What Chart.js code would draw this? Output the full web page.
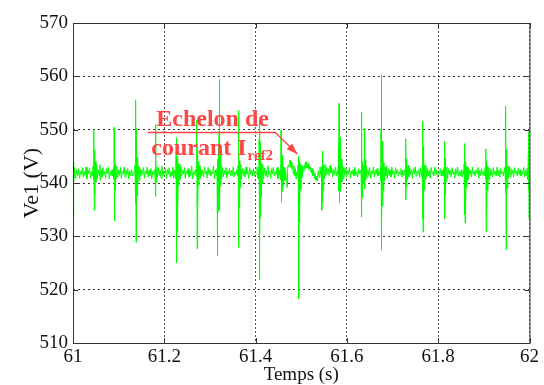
<!DOCTYPE html>
<html>
<head>
<meta charset="utf-8">
<script src="https://cdn.jsdelivr.net/npm/chart.js@4.4.1/dist/chart.umd.min.js"></script>
<style>
  html, body { margin: 0; padding: 0; background: #fff; }
  #wrap { width: 544px; height: 385px; }
</style>
</head>
<body>
<div id="wrap"><canvas id="chart" width="544" height="385"></canvas></div>
<script>
// time axis (s)
const temps = [
  61.0000, 61.0008, 61.0014, 61.0020, 61.0030, 61.0045, 61.0065, 61.0085, 61.0105, 61.0125,
  61.0145, 61.0165, 61.0185, 61.0205, 61.0225, 61.0245, 61.0265, 61.0285, 61.0305, 61.0325,
  61.0345, 61.0365, 61.0385, 61.0405, 61.0425, 61.0440,
  61.0450, 61.0460, 61.0466, 61.0472, 61.0480, 61.0490, 61.0502, 61.0515, 61.0535, 61.0555,
  61.0575, 61.0590, 61.0596, 61.0615, 61.0635, 61.0655, 61.0675, 61.0695, 61.0715, 61.0735,
  61.0755, 61.0775, 61.0795, 61.0815, 61.0835, 61.0855, 61.0875, 61.0890,
  61.0896, 61.0902, 61.0908, 61.0914, 61.0922, 61.0932, 61.0945, 61.0960, 61.0980, 61.1000,
  61.1020, 61.1040, 61.1060, 61.1080, 61.1100, 61.1120, 61.1140, 61.1160, 61.1180, 61.1200,
  61.1220, 61.1240, 61.1260, 61.1280, 61.1300, 61.1320, 61.1340, 61.1355,
  61.1362, 61.1368, 61.1372, 61.1376, 61.1381, 61.1386, 61.1391, 61.1397, 61.1404, 61.1412,
  61.1422, 61.1434, 61.1448, 61.1465, 61.1485, 61.1505, 61.1525, 61.1545, 61.1565, 61.1585,
  61.1605, 61.1625, 61.1645, 61.1665, 61.1685, 61.1705, 61.1725, 61.1745, 61.1765, 61.1785,
  61.1798, 61.1806, 61.1812, 61.1818, 61.1826, 61.1836, 61.1850, 61.1868, 61.1888, 61.1908,
  61.1928, 61.1948, 61.1968, 61.1988, 61.2008, 61.2028, 61.2048, 61.2068, 61.2088, 61.2108,
  61.2128, 61.2148, 61.2168, 61.2188, 61.2208, 61.2228, 61.2245,
  61.2252, 61.2258, 61.2262, 61.2266, 61.2271, 61.2276, 61.2282, 61.2289, 61.2296, 61.2305,
  61.2315, 61.2328, 61.2343, 61.2360, 61.2380, 61.2400, 61.2420, 61.2440, 61.2460, 61.2480,
  61.2500, 61.2520, 61.2540, 61.2560, 61.2580, 61.2600, 61.2620, 61.2640, 61.2660, 61.2680, 61.2700,
  61.2708, 61.2714, 61.2720, 61.2726, 61.2733, 61.2742, 61.2753, 61.2766, 61.2782, 61.2800,
  61.2820, 61.2840, 61.2860, 61.2880, 61.2900, 61.2920, 61.2940, 61.2960, 61.2980, 61.3000,
  61.3020, 61.3040, 61.3060, 61.3080, 61.3100, 61.3120, 61.3140, 61.3155,
  61.3162, 61.3166, 61.3172, 61.3178, 61.3185, 61.3192, 61.3200, 61.3205, 61.3210, 61.3216,
  61.3223, 61.3231, 61.3241, 61.3254, 61.3270, 61.3290, 61.3310, 61.3330, 61.3350, 61.3370,
  61.3390, 61.3410, 61.3430, 61.3450, 61.3470, 61.3490, 61.3510, 61.3530, 61.3550, 61.3570, 61.3590, 61.3610,
  61.3618, 61.3624, 61.3630, 61.3636, 61.3643, 61.3652, 61.3663, 61.3676, 61.3692, 61.3710,
  61.3730, 61.3750, 61.3770, 61.3790, 61.3810, 61.3830, 61.3850, 61.3870, 61.3890, 61.3910,
  61.3930, 61.3950, 61.3970, 61.3990, 61.4010, 61.4030, 61.4050, 61.4065,
  61.4072, 61.4078, 61.4083, 61.4088, 61.4093, 61.4099, 61.4105, 61.4112, 61.4120, 61.4130,
  61.4142, 61.4156, 61.4172, 61.4190, 61.4210, 61.4230, 61.4250, 61.4270, 61.4290, 61.4310,
  61.4330, 61.4350, 61.4370, 61.4390, 61.4410, 61.4430, 61.4450, 61.4470, 61.4490, 61.4510, 61.4530, 61.4545,
  61.4550, 61.4557, 61.4562, 61.4568, 61.4574, 61.4581, 61.4589, 61.4598, 61.4610, 61.4624, 61.4640,
  61.4658, 61.4675, 61.4690, 61.4700, 61.4712, 61.4725, 61.4740, 61.4755, 61.4768, 61.4780,
  61.4795, 61.4810, 61.4825, 61.4840, 61.4855, 61.4870, 61.4885, 61.4900, 61.4915, 61.4928,
  61.4935, 61.4941, 61.4946, 61.4951, 61.4957, 61.4964, 61.4971, 61.4980, 61.4990, 61.5002, 61.5016,
  61.5030, 61.5045, 61.5060, 61.5075, 61.5090, 61.5105, 61.5120, 61.5135, 61.5150, 61.5165,
  61.5180, 61.5195, 61.5210, 61.5225, 61.5240, 61.5255, 61.5270, 61.5285, 61.5300, 61.5315,
  61.5330, 61.5345, 61.5360, 61.5375, 61.5390, 61.5410, 61.5425, 61.5440,
  61.5448, 61.5452, 61.5456, 61.5462, 61.5468, 61.5475, 61.5483, 61.5493, 61.5505, 61.5520,
  61.5538, 61.5556, 61.5574, 61.5592, 61.5610, 61.5630, 61.5650, 61.5670, 61.5690, 61.5710,
  61.5730, 61.5750, 61.5770, 61.5790, 61.5805,
  61.5810, 61.5814, 61.5818, 61.5823, 61.5828, 61.5833, 61.5838, 61.5843, 61.5849, 61.5855,
  61.5862, 61.5870, 61.5879, 61.5890, 61.5903, 61.5918, 61.5935, 61.5955, 61.5975, 61.5995,
  61.6015, 61.6035, 61.6055, 61.6075, 61.6095, 61.6115, 61.6135, 61.6155, 61.6175, 61.6195,
  61.6215, 61.6235, 61.6255, 61.6275, 61.6295, 61.6312,
  61.6317, 61.6322, 61.6328, 61.6335, 61.6344, 61.6355, 61.6366, 61.6378, 61.6386, 61.6390,
  61.6395, 61.6402, 61.6412, 61.6425, 61.6442, 61.6460, 61.6480, 61.6500, 61.6520, 61.6540,
  61.6560, 61.6580, 61.6600, 61.6620, 61.6640, 61.6660, 61.6680, 61.6700, 61.6720, 61.6738,
  61.6743, 61.6748, 61.6751, 61.6753, 61.6758, 61.6763, 61.6768, 61.6774, 61.6781, 61.6789,
  61.6798, 61.6809, 61.6822, 61.6837, 61.6852, 61.6868, 61.6885, 61.6905, 61.6925, 61.6945,
  61.6965, 61.6985, 61.7005, 61.7025, 61.7045, 61.7065, 61.7085, 61.7105, 61.7125, 61.7145,
  61.7165, 61.7185, 61.7205, 61.7225, 61.7245, 61.7265, 61.7280,
  61.7286, 61.7291, 61.7297, 61.7304, 61.7313, 61.7325, 61.7340, 61.7356, 61.7375, 61.7395,
  61.7415, 61.7435, 61.7455, 61.7475, 61.7495, 61.7515, 61.7535, 61.7555, 61.7575, 61.7595,
  61.7615, 61.7635, 61.7652,
  61.7657, 61.7660, 61.7664, 61.7669, 61.7674, 61.7680, 61.7687, 61.7695, 61.7705, 61.7717,
  61.7731, 61.7747, 61.7765, 61.7785, 61.7805, 61.7825, 61.7845, 61.7865, 61.7885, 61.7905,
  61.7925, 61.7945, 61.7965, 61.7985, 61.8005, 61.8025, 61.8045, 61.8065, 61.8085, 61.8105, 61.8125,
  61.8133, 61.8138, 61.8143, 61.8149, 61.8156, 61.8165, 61.8176, 61.8190, 61.8206, 61.8225,
  61.8245, 61.8265, 61.8285, 61.8305, 61.8325, 61.8345, 61.8365, 61.8385, 61.8405, 61.8425,
  61.8445, 61.8465, 61.8485, 61.8505, 61.8525, 61.8545, 61.8565,
  61.8568, 61.8572, 61.8577, 61.8581, 61.8585, 61.8590, 61.8596, 61.8603, 61.8612, 61.8623,
  61.8636, 61.8652, 61.8670, 61.8690, 61.8710, 61.8730, 61.8750, 61.8770, 61.8790, 61.8810,
  61.8830, 61.8850, 61.8870, 61.8890, 61.8910, 61.8930, 61.8950, 61.8970, 61.8990, 61.9010, 61.9030,
  61.9040, 61.9046, 61.9051, 61.9057, 61.9064, 61.9073, 61.9084, 61.9097, 61.9113, 61.9131,
  61.9150, 61.9170, 61.9190, 61.9210, 61.9230, 61.9250, 61.9270, 61.9290, 61.9310, 61.9330,
  61.9350, 61.9370, 61.9390, 61.9410, 61.9430, 61.9450, 61.9468,
  61.9470, 61.9473, 61.9478, 61.9481, 61.9483, 61.9488, 61.9493, 61.9499, 61.9506, 61.9515,
  61.9526, 61.9540, 61.9556, 61.9574, 61.9593, 61.9613, 61.9633, 61.9653, 61.9673, 61.9693,
  61.9713, 61.9733, 61.9753, 61.9773, 61.9793, 61.9813, 61.9833, 61.9853, 61.9873, 61.9893,
  61.9913, 61.9933, 61.9950, 61.9965,
  61.9975, 61.9980, 61.9985, 61.9990, 61.9995, 62.0000
];

// Ve1 (V), same layout as temps
const vel = [
  543.5, 533.8, 543.9, 540.2, 543.0, 540.9, 541.3, 542.5, 541.4, 542.7,
  540.9, 542.2, 541.6, 542.9, 541.1, 542.1, 541.4, 543.0, 540.8, 542.4,
  541.7, 542.7, 540.9, 542.2, 541.3, 543.2,
  540.5, 550.0, 534.9, 546.2, 537.8, 544.1, 540.2, 543.5, 540.8, 542.5,
  541.4, 543.4, 540.5, 542.4, 541.1, 542.9, 541.6, 542.1, 540.9, 542.7,
  541.7, 543.0, 540.8, 542.2, 541.4, 542.5, 541.3, 542.9,
  540.6, 550.4, 532.9, 545.5, 538.6, 543.6, 540.9, 543.2, 541.1, 542.4,
  541.4, 542.9, 540.9, 542.1, 541.7, 543.0, 541.1, 542.4, 541.6, 542.7,
  540.8, 542.2, 541.4, 542.5, 541.3, 542.1, 541.9, 543.3,
  540.8, 548.6, 536.2, 555.6, 528.9, 550.2, 533.4, 547.1, 537.6, 544.8,
  539.9, 543.1, 540.5, 543.0, 541.3, 542.5, 541.6, 542.9, 540.9, 542.2,
  541.7, 543.0, 541.1, 542.4, 541.4, 542.7, 540.8, 542.1, 541.6, 542.5,
  540.9, 551.0, 537.5, 544.6, 540.1, 543.0, 541.1, 542.9, 541.4, 542.4,
  540.9, 543.2, 541.3, 542.2, 541.7, 542.7, 540.8, 542.5, 541.6, 542.9,
  541.1, 542.1, 541.4, 543.0, 540.9, 542.4, 541.9,
  540.9, 545.8, 537.2, 548.5, 525.0, 546.4, 530.8, 544.9, 536.4, 543.6,
  539.6, 543.5, 540.6, 543.0, 541.3, 542.4, 541.6, 542.9, 540.9, 542.2,
  541.7, 542.7, 541.1, 542.4, 541.4, 543.2, 540.8, 542.1, 541.6, 542.5, 541.3,
  543.0, 551.8, 527.7, 546.3, 535.8, 544.0, 539.6, 543.3, 540.9, 542.7,
  541.4, 542.4, 541.1, 543.0, 541.7, 542.2, 540.9, 542.9, 541.6, 542.5,
  541.3, 542.1, 541.7, 543.2, 540.8, 542.4, 541.4, 542.7,
  540.5, 526.3, 544.5, 534.6, 547.0, 537.0, 549.5, 535.0, 559.4, 537.5,
  546.0, 539.4, 543.8, 540.8, 543.0, 541.1, 542.4, 541.6, 542.9, 540.9,
  542.2, 541.7, 542.7, 541.3, 542.4, 541.4, 543.0, 541.1, 542.1, 541.6, 542.5, 541.3,
  543.3, 553.6, 527.9, 546.8, 535.4, 544.2, 539.2, 543.5, 540.8, 542.7,
  541.4, 542.5, 541.1, 543.0, 541.7, 542.1, 540.9, 542.9, 541.6, 542.4,
  541.3, 542.7, 541.4, 542.2, 541.7, 543.0, 540.9, 542.5,
  540.7, 548.2, 521.8, 551.4, 530.5, 547.6, 533.5, 545.0, 537.4, 543.8,
  539.8, 543.5, 540.8, 542.9, 541.4, 542.4, 541.1, 543.2, 541.6, 542.2,
  540.9, 542.7, 541.7, 543.0, 541.3, 542.1, 541.6, 542.9, 540.8, 542.5, 541.4, 542.4,
  540.6, 549.9, 536.4, 546.8, 537.6, 545.2, 538.4, 544.0, 539.6, 543.0, 540.5,
  542.4, 540.5, 539.2, 542.7, 543.3, 543.0, 543.8, 544.3, 543.0, 543.9,
  542.7, 543.1, 541.7, 543.2, 541.3, 542.7, 540.8, 542.1, 541.4, 543.4,
  540.4, 545.0, 518.3, 540.8, 532.5, 544.2, 535.8, 543.5, 538.8, 543.2, 541.1,
  543.2, 542.1, 543.4, 542.6, 543.9, 542.8, 544.0, 542.9, 543.6, 542.6,
  543.3, 542.2, 543.0, 541.8, 542.7, 541.4, 542.3, 540.9, 541.9, 540.6,
  541.3, 540.4, 541.2, 542.3, 541.1, 543.0, 541.7, 542.9,
  540.5, 534.9, 543.2, 546.0, 536.4, 544.6, 538.6, 543.4, 540.8, 543.5,
  541.3, 543.0, 541.6, 542.7, 541.4, 543.3, 541.9, 542.9, 541.1, 542.5,
  541.6, 543.0, 541.3, 542.2, 541.7,
  543.0, 540.4, 546.9, 538.5, 554.9, 536.3, 552.9, 537.2, 548.6, 538.4,
  546.1, 539.1, 544.5, 540.2, 543.3, 540.8, 543.0, 541.4, 542.7, 541.1,
  542.4, 541.7, 542.9, 540.9, 542.2, 541.6, 542.5, 541.3, 543.0, 541.4,
  542.1, 541.1, 542.7, 541.7, 542.4, 541.3,
  553.3, 533.6, 546.0, 537.2, 544.0, 539.8, 543.3, 540.8, 543.1, 550.2,
  538.9, 544.4, 540.6, 543.2, 541.1, 542.5, 541.4, 542.9, 540.9, 542.2,
  541.7, 543.0, 541.1, 542.4, 541.6, 542.7, 541.3, 542.1, 541.7, 542.9,
  540.5, 550.1, 538.0, 560.3, 527.4, 552.3, 531.9, 547.8, 535.6, 545.4,
  538.5, 543.9, 540.4, 543.0, 541.3, 543.2, 540.9, 542.7, 541.4, 542.4,
  541.1, 543.0, 541.6, 542.2, 540.9, 542.9, 541.7, 542.5, 541.3, 542.1,
  541.6, 542.7, 541.1, 542.4, 541.4, 542.5, 541.3,
  548.3, 536.9, 544.6, 539.3, 543.4, 540.6, 543.3, 541.1, 542.9, 541.6,
  542.4, 540.9, 542.7, 541.7, 543.0, 541.3, 542.2, 541.6, 542.5, 541.1,
  542.9, 541.4, 542.4,
  540.9, 533.3, 551.6, 530.8, 546.9, 535.5, 544.8, 538.7, 543.4, 540.6,
  543.2, 541.1, 542.7, 541.4, 542.4, 540.9, 542.9, 541.7, 542.2, 541.3,
  543.0, 541.6, 542.5, 541.1, 542.1, 541.7, 542.7, 541.3, 542.4, 541.4, 542.9,
  540.8, 547.8, 533.3, 544.6, 537.8, 543.1, 540.2, 543.0, 540.9, 542.7,
  541.6, 542.4, 541.1, 542.9, 541.7, 542.1, 540.9, 542.7, 541.6, 543.0,
  541.3, 542.2, 541.4, 542.5, 541.1, 542.4, 541.7,
  543.6, 540.6, 546.2, 534.0, 547.4, 532.5, 544.0, 536.6, 543.2, 539.2,
  543.0, 540.6, 542.7, 541.4, 542.4, 541.1, 543.0, 541.6, 542.2, 541.3,
  542.5, 541.7, 542.9, 540.9, 542.4, 541.4, 542.7, 541.6, 542.1, 541.3, 543.0,
  540.8, 546.4, 530.8, 544.2, 535.2, 543.2, 538.6, 543.0, 540.6, 542.7,
  541.4, 542.5, 541.1, 542.9, 541.6, 542.2, 541.3, 543.0, 541.4, 542.4,
  541.1, 542.7, 541.7, 542.1, 541.3, 542.9, 541.4,
  543.5, 540.7, 548.6, 538.1, 554.4, 527.5, 546.4, 536.3, 544.6, 539.0,
  543.2, 540.9, 543.2, 541.1, 542.7, 541.6, 542.4, 541.1, 542.9, 541.7,
  542.2, 541.3, 542.7, 541.6, 542.5, 541.3, 542.1, 541.6, 542.9, 541.1,
  542.4, 541.4, 542.7, 540.6,
  545.6, 538.7, 549.6, 533.3, 544.2, 537.8
];

const xTicks = [61, 61.2, 61.4, 61.6, 61.8, 62];
const xTickLabels = ['61', '61.2', '61.4', '61.6', '61.8', '62'];
const yTicks = [510, 520, 530, 540, 550, 560, 570];

const serif = '"Liberation Serif", "Times New Roman", serif';
const red = '#ff4646';

// matlab style box + inward ticks, and the red annotation
const boxPlugin = {
  id: 'box',
  afterDraw(chart) {
    const { ctx, chartArea: a, scales: { x, y } } = chart;
    ctx.save();
    ctx.strokeStyle = '#333';
    ctx.lineWidth = 1;
    ctx.strokeRect(a.left + 0.5, a.top + 0.5, a.right - a.left, a.bottom - a.top);
    ctx.beginPath();
    xTicks.forEach(v => {
      const px = Math.round(x.getPixelForValue(v)) + 0.5;
      ctx.moveTo(px, a.bottom); ctx.lineTo(px, a.bottom - 5);
      ctx.moveTo(px, a.top); ctx.lineTo(px, a.top + 5);
    });
    yTicks.forEach(v => {
      const py = Math.round(y.getPixelForValue(v)) + 0.5;
      ctx.moveTo(a.left, py); ctx.lineTo(a.left + 5, py);
      ctx.moveTo(a.right, py); ctx.lineTo(a.right - 5, py);
    });
    ctx.stroke();

    // annotation "Echelon de courant Iref2"
    ctx.fillStyle = red;
    ctx.strokeStyle = red;
    ctx.font = 'bold 24px ' + serif;
    ctx.textBaseline = 'alphabetic';
    ctx.fillText('Echelon de', x.getPixelForValue(61.1823), y.getPixelForValue(550.78));
    const cx = x.getPixelForValue(61.1714), cy = y.getPixelForValue(545.16);
    ctx.fillText('courant I', cx, cy);
    const w = ctx.measureText('courant I').width;
    ctx.font = 'bold 15px ' + serif;
    ctx.fillText('ref2', cx + w + 1, cy + 4.5);

    const ly = y.getPixelForValue(549.47);
    const x0 = x.getPixelForValue(61.1638), x1 = x.getPixelForValue(61.4432);
    const tx = x.getPixelForValue(61.4913), ty = y.getPixelForValue(545.44);
    ctx.lineWidth = 1.3;
    ctx.beginPath();
    ctx.moveTo(x0, ly); ctx.lineTo(x1, ly); ctx.lineTo(tx, ty);
    ctx.stroke();
    const ang = Math.atan2(ty - ly, tx - x1);
    ctx.beginPath();
    ctx.moveTo(tx, ty);
    ctx.lineTo(tx - 11 * Math.cos(ang) + 4 * Math.sin(ang), ty - 11 * Math.sin(ang) - 4 * Math.cos(ang));
    ctx.lineTo(tx - 11 * Math.cos(ang) - 4 * Math.sin(ang), ty - 11 * Math.sin(ang) + 4 * Math.cos(ang));
    ctx.closePath();
    ctx.fill();
    ctx.restore();
  }
};

const points = temps.map((t, i) => ({ x: t, y: vel[i] }));

new Chart(document.getElementById('chart'), {
  type: 'line',
  data: {
    datasets: [{
      label: 'Ve1',
      data: points,
      borderColor: '#00ff00',
      borderWidth: 1,
      pointRadius: 0,
      tension: 0,
      fill: false
    }]
  },
  options: {
    responsive: false,
    animation: false,
    parsing: false,
    layout: { padding: { top: 23, right: 13, left: 0, bottom: 0 } },
    plugins: {
      legend: { display: false },
      tooltip: { enabled: false }
    },
    scales: {
      x: {
        type: 'linear',
        min: 61,
        max: 62,
        afterFit: s => { s.height = 42; },
        afterBuildTicks: s => { s.ticks = xTicks.map(v => ({ value: v })); },
        ticks: {
          color: '#111',
          font: { family: serif, size: 19, lineHeight: 1 },
          padding: 5,
          maxRotation: 0,
          autoSkip: false,
          callback: (v, i) => xTickLabels[i]
        },
        grid: { color: '#555', drawTicks: false },
        border: { display: false, dash: [2, 2] },
        title: {
          display: true,
          text: 'Temps (s)',
          color: '#111',
          font: { family: serif, size: 19, lineHeight: 1 },
          padding: { top: 0, bottom: 0 }
        }
      },
      y: {
        min: 510,
        max: 570,
        afterFit: s => { s.width = 73; },
        afterBuildTicks: s => { s.ticks = yTicks.map(v => ({ value: v })); },
        ticks: {
          color: '#111',
          font: { family: serif, size: 19 },
          padding: 5,
          autoSkip: false
        },
        grid: { color: '#333', drawTicks: false },
        border: { display: false, dash: [2, 3] },
        title: {
          display: true,
          text: 'Ve1 (V)',
          color: '#111',
          font: { family: serif, size: 22, lineHeight: 1 },
          padding: { top: 21, bottom: 0 }
        }
      }
    }
  },
  plugins: [boxPlugin]
});
</script>
</body>
</html>
